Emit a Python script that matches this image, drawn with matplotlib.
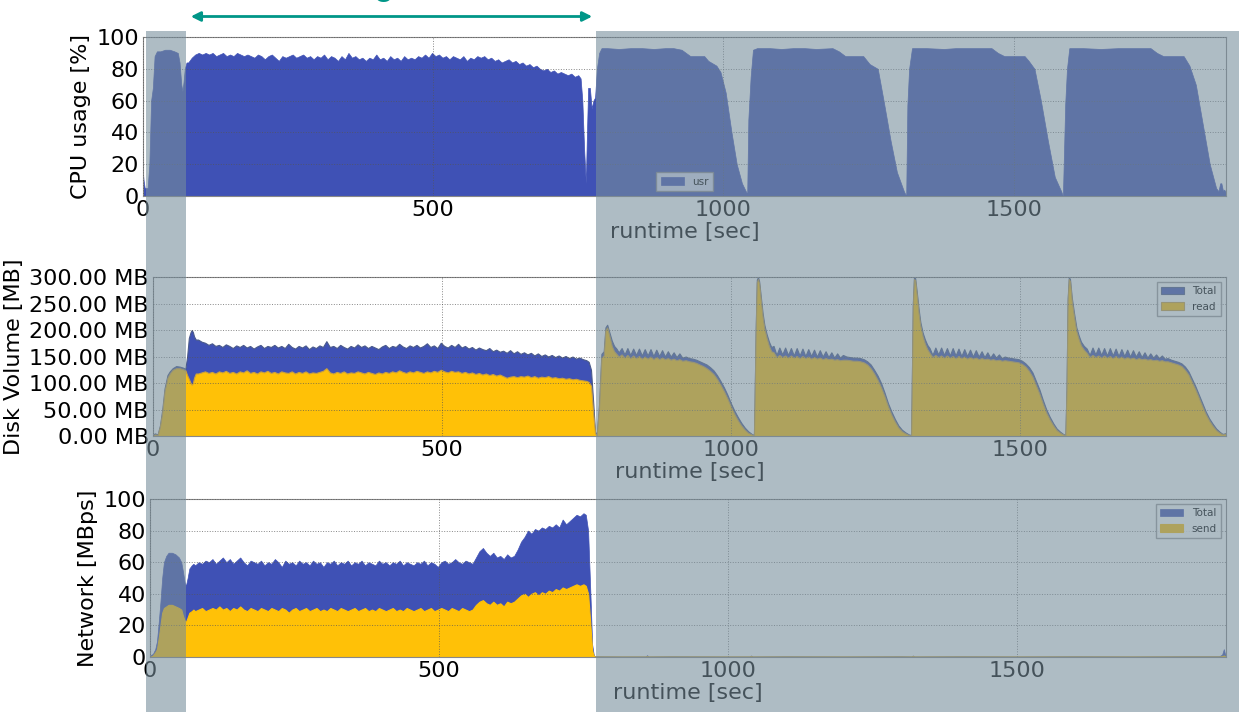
import numpy as np
import matplotlib
matplotlib.use("Agg")
import matplotlib.pyplot as plt
from matplotlib.patches import Rectangle, FancyArrowPatch
from matplotlib.ticker import FuncFormatter

# ---- CPU usage (usr) ----
cpu_t_start = [0, 1, 3, 8, 11, 14, 17, 20, 24, 30, 38, 46, 54, 60, 63, 66, 68, 70, 72, 75]
cpu_start = [14, 10, 5, 5, 20, 60, 68, 88, 91, 91, 92, 92, 91, 90, 84, 70, 66, 72, 80, 84]
# busy phase, one value per ~6 s from t=78 to t=750
cpu_busy = [84, 87, 89, 90, 89, 90, 89, 90, 88, 89, 90, 88, 89, 88, 90, 89, 88, 89, 88, 87,
            89, 88, 86, 88, 89, 87, 85, 88, 87, 88, 89, 87, 88, 89, 87, 88, 86, 88, 87, 89,
            86, 88, 87, 85, 88, 86, 90, 87, 88, 86, 87, 85, 87, 86, 89, 86, 87, 85, 88, 86,
            87, 85, 88, 86, 87, 86, 88, 87, 89, 87, 90, 88, 89, 87, 88, 86, 88, 87, 86, 88,
            85, 87, 86, 88, 87, 88, 86, 87, 85, 86, 84, 85, 86, 84, 85, 83, 84, 82, 83, 81,
            82, 80, 79, 80, 78, 79, 77, 78, 77, 76, 77, 75, 76]
cpu_t_end = [754, 757, 760, 763, 765, 767, 770, 773, 776, 779, 782, 786, 790,
             800, 820, 840, 860, 880, 900, 914, 928, 943, 967, 974, 988, 995, 1004, 1014, 1023, 1032, 1040,
             1041, 1043, 1047, 1051, 1058,
             1080, 1100, 1120, 1140, 1160, 1188, 1199, 1210, 1241, 1252, 1266, 1276, 1288, 1299, 1311,
             1315, 1317, 1320, 1325,
             1350, 1380, 1400, 1430, 1462, 1473, 1484, 1519, 1526, 1536, 1547, 1559, 1571, 1582,
             1585, 1589, 1592, 1596,
             1620, 1650, 1680, 1710, 1736, 1747, 1758, 1793, 1803, 1814, 1826, 1838, 1849, 1853,
             1856, 1858, 1861, 1863, 1866]
cpu_end = [74, 60, 30, 8, 40, 68, 68, 55, 60, 62, 80, 90, 93,
           93, 92.5, 93, 93, 92.5, 93, 93, 92, 88, 88, 85, 82, 78, 65, 40, 20, 8, 2,
           0, 48, 75, 92, 93,
           93, 92.5, 93, 93, 92.5, 93, 91, 88, 88, 83, 80, 60, 35, 15, 3,
           0, 57, 80, 93,
           93, 92.5, 93, 93, 93, 90, 88, 88, 85, 80, 60, 35, 12, 3,
           0, 58, 80, 93,
           93, 92.5, 93, 93, 93, 90, 88, 88, 82, 70, 45, 20, 5, 3,
           8, 8, 3, 4, 2]

# ---- Disk volume ----
disk_t_start = [0, 3, 8, 12, 16, 20, 25, 29, 34, 40, 46, 52, 56, 59, 62, 65, 67, 69, 71, 74]
disk_total_start = [2, 5, 3, 20, 50, 90, 115, 122, 128, 132, 131, 129, 127, 150, 185, 196, 200, 196, 188, 182]
disk_read_start = [1, 3, 2, 18, 45, 85, 110, 118, 125, 128, 128, 126, 124, 115, 108, 100, 97, 100, 110, 118]
disk_total_busy = [182, 178, 176, 172, 175, 170, 172, 168, 173, 170, 166, 171, 168, 172, 167, 170, 165, 169, 172, 166,
                   170, 168, 172, 167, 170, 166, 174, 168, 165, 170, 167, 171, 164, 169, 166, 171, 168, 179, 168, 170,
                   166, 172, 168, 165, 170, 167, 173, 168, 171, 166, 170, 167, 164, 169, 172, 166, 170, 168, 174, 169,
                   166, 171, 168, 172, 167, 170, 175, 168, 171, 166, 176, 170, 167, 172, 168, 174, 167, 170, 165, 168,
                   163, 167, 164, 162, 166, 160, 163, 159, 161, 157, 162, 156, 160, 155, 158, 154, 157, 152, 156, 151,
                   154, 150, 153, 149, 152, 148, 151, 147, 150, 146, 148, 145, 143]
disk_read_busy = [118, 120, 122, 119, 121, 118, 122, 120, 123, 119, 121, 118, 122, 120, 124, 119, 121, 118, 122, 120,
                  123, 119, 121, 118, 122, 120, 119, 122, 118, 121, 119, 122, 118, 120, 119, 121, 123, 128, 120, 118,
                  121, 119, 122, 118, 120, 119, 122, 120, 118, 121, 119, 117, 120, 118, 121, 119, 122, 120, 124, 121,
                  119, 122, 120, 123, 121, 119, 122, 120, 123, 121, 125, 122, 120, 123, 121, 122, 119, 121, 118, 120,
                  117, 119, 116, 118, 115, 117, 114, 116, 113, 110, 112, 113, 111, 113, 112, 114, 111, 113, 110, 112,
                  111, 113, 110, 111, 109, 110, 108, 109, 107, 108, 106, 105, 104]
disk_t_end = [754, 758, 762, 765, 768,
              772, 776, 780, 783, 786, 790, 794, 798, 802, 806, 811, 816, 821, 826, 831, 836, 841, 846, 851, 856,
              861, 866, 871, 876, 881, 886, 891, 896, 901, 906, 911, 916, 922, 928, 934, 940, 946, 952, 958, 964,
              970, 976, 982, 988, 994, 1000, 1006, 1012, 1018, 1024, 1030, 1036, 1040,
              1041, 1043, 1045, 1047, 1049, 1052, 1055, 1058, 1062, 1066, 1070, 1074, 1079, 1084, 1089, 1094, 1099,
              1104, 1109, 1114, 1119, 1124, 1129, 1134, 1139, 1144, 1149, 1154, 1159, 1164, 1169, 1174, 1179, 1184,
              1189, 1194, 1200, 1206, 1212, 1218, 1224, 1230, 1236, 1242, 1248, 1254, 1260, 1266, 1272, 1278, 1284,
              1290, 1296, 1302, 1308, 1312,
              1313, 1315, 1317, 1319, 1322, 1325, 1328, 1332, 1336, 1340, 1344, 1349, 1354, 1359, 1364, 1369, 1374,
              1379, 1384, 1389, 1394, 1399, 1404, 1409, 1414, 1419, 1424, 1429, 1434, 1439, 1444, 1449, 1454, 1459,
              1464, 1469, 1474, 1480, 1486, 1492, 1498, 1504, 1510, 1516, 1522, 1528, 1534, 1540, 1546, 1552, 1558,
              1564, 1570, 1575, 1579,
              1581, 1583, 1585, 1587, 1590, 1594, 1598, 1602, 1606, 1611, 1616, 1621, 1626, 1631, 1636, 1641, 1646,
              1651, 1656, 1661, 1666, 1671, 1676, 1681, 1686, 1691, 1696, 1701, 1706, 1711, 1716, 1721, 1726, 1731,
              1736, 1741, 1746, 1751, 1756, 1762, 1768, 1774, 1780, 1786, 1792, 1798, 1804, 1810, 1816, 1822, 1828,
              1834, 1840, 1846, 1851, 1855, 1857]
disk_total_end = [140, 125, 60, 8, 3,
                  60, 155, 160, 205, 210, 195, 180, 170, 165, 158, 166, 154, 166, 153, 165, 153, 165, 152, 164, 152,
                  164, 151, 163, 151, 162, 150, 160, 150, 158, 149, 156, 148, 150, 147, 146, 144, 141, 138, 135, 130,
                  124, 115, 104, 92, 78, 62, 48, 36, 25, 16, 9, 4, 2,
                  60, 200, 295, 300, 292, 262, 232, 210, 192, 178, 168, 170, 153, 167, 154, 167, 153,
                  166, 152, 166, 152, 165, 151, 164, 151, 163, 150, 162, 150, 160, 149, 158, 148, 156,
                  148, 153, 150, 149, 148, 148, 147, 145, 141, 135, 125, 114, 100, 82, 62, 46, 32,
                  20, 12, 7, 3, 2,
                  80, 250, 300, 298, 270, 240, 215, 195, 182, 172, 166, 153, 167, 154, 167, 153, 166,
                  152, 166, 152, 165, 151, 164, 151, 163, 150, 162, 150, 160, 149, 158, 148, 156, 148,
                  154, 147, 150, 148, 147, 146, 145, 142, 137, 130, 120, 104, 88, 68, 50, 36, 24,
                  14, 8, 4, 2,
                  90, 260, 300, 296, 262, 232, 205, 190, 178, 170, 165, 153, 167, 154, 167, 153, 166,
                  152, 166, 152, 165, 151, 164, 151, 163, 150, 162, 150, 160, 149, 158, 148, 156, 148,
                  154, 147, 152, 146, 147, 144, 142, 140, 137, 131, 122, 108, 94, 78, 62, 46, 33,
                  23, 14, 8, 4, 5, 6]
disk_read_end = [102, 95, 40, 5, 2,
                 55, 148, 152, 200, 205, 188, 170, 160, 155, 150, 154, 148, 153, 147, 152, 147, 151, 146, 150, 146,
                 150, 145, 149, 145, 148, 145, 147, 144, 146, 143, 145, 142, 143, 141, 140, 138, 135, 132, 128, 123,
                 117, 108, 97, 85, 71, 56, 42, 30, 20, 12, 6, 3, 1,
                 55, 195, 290, 296, 288, 255, 225, 203, 185, 170, 160, 158, 149, 153, 149, 152, 148,
                 152, 148, 151, 147, 151, 147, 150, 146, 149, 146, 148, 145, 147, 145, 146, 144, 145,
                 143, 144, 144, 143, 142, 142, 141, 139, 135, 128, 118, 106, 92, 75, 56, 40, 27,
                 16, 9, 5, 2, 1,
                 75, 245, 296, 294, 264, 232, 208, 188, 174, 164, 157, 149, 153, 149, 152, 148, 152,
                 148, 151, 147, 151, 147, 150, 146, 149, 146, 148, 145, 147, 145, 146, 144, 145, 143,
                 144, 142, 143, 142, 141, 140, 139, 136, 131, 123, 112, 96, 80, 61, 44, 31, 20,
                 11, 6, 3, 1,
                 85, 255, 296, 292, 256, 225, 198, 183, 171, 163, 157, 149, 153, 149, 152, 148, 152,
                 148, 151, 147, 151, 147, 150, 146, 149, 146, 148, 145, 147, 145, 146, 144, 145, 143,
                 144, 142, 143, 141, 141, 139, 137, 135, 132, 125, 116, 102, 88, 72, 56, 41, 29,
                 19, 11, 6, 3, 4, 5]

# ---- Network ----
net_t_start = [0, 5, 9, 12, 15, 18, 21, 24, 28, 32, 38, 44, 50, 54, 57, 60, 62, 65, 68, 72, 75]
net_total_start = [1, 2, 5, 10, 22, 35, 50, 60, 64, 66, 66, 65, 63, 60, 54, 47, 45, 50, 56, 58, 59]
net_send_start = [0, 1, 3, 5, 12, 20, 28, 31, 32, 33, 33, 32, 31, 30, 26, 23, 22, 25, 28, 29, 30]
net_total_busy = [58, 60, 59, 61, 60, 62, 59, 61, 63, 60, 62, 59, 61, 63, 60, 58, 61, 60, 59, 61,
                  58, 60, 59, 62, 60, 57, 61, 59, 60, 58, 61, 59, 60, 58, 61, 59, 60, 57, 60, 59,
                  61, 58, 60, 59, 61, 58, 60, 59, 61, 58, 60, 59, 58, 61, 59, 60, 58, 60, 59, 61,
                  58, 60, 59, 58, 60, 59, 61, 58, 60, 59, 57, 60, 61, 59, 60, 62, 60, 59, 61, 60,
                  59, 63, 67, 69, 66, 64, 66, 63, 64, 62, 65, 63, 64, 68, 73, 76, 80, 78, 81, 80,
                  82, 81, 83, 82, 84, 82, 87, 84, 86, 88, 90, 89, 91]
net_send_busy = [29, 30, 31, 29, 30, 31, 30, 32, 30, 31, 29, 31, 30, 32, 30, 29, 31, 30, 29, 31,
                 30, 29, 31, 30, 29, 31, 30, 28, 30, 31, 29, 30, 31, 29, 30, 31, 29, 30, 29, 31,
                 30, 29, 31, 30, 29, 30, 31, 29, 30, 31, 29, 30, 29, 31, 30, 29, 30, 31, 29, 30,
                 29, 31, 30, 29, 30, 31, 29, 30, 31, 29, 30, 31, 30, 29, 31, 30, 29, 31, 30, 29,
                 30, 33, 35, 36, 34, 33, 35, 33, 34, 32, 35, 34, 35, 37, 39, 40, 38, 40, 41, 39,
                 41, 40, 42, 41, 43, 42, 44, 43, 44, 45, 46, 45, 46]
net_t_end = [754, 758, 762, 765, 768, 770, 820, 858, 860, 862, 900, 1000, 1038, 1040, 1042, 1100, 1200,
             1300, 1318, 1320, 1322, 1400, 1500, 1600, 1700, 1800, 1850, 1855, 1858, 1860, 1862]
net_total_end = [90, 80, 40, 8, 1, 0.5, 0.4, 0.4, 1.2, 0.4, 0.5, 0.4, 0.4, 1.0, 0.4, 0.5, 0.4,
                 0.5, 0.4, 1.0, 0.4, 0.5, 0.4, 0.5, 0.4, 0.5, 0.5, 1.5, 5.0, 2.0, 0.5]
net_send_end = [45, 40, 20, 4, 0.5, 0.3, 0.3, 0.3, 0.5, 0.3, 0.3, 0.3, 0.3, 0.5, 0.3, 0.3, 0.3,
                0.3, 0.3, 0.5, 0.3, 0.3, 0.3, 0.3, 0.3, 0.3, 0.3, 0.5, 1.0, 0.5, 0.3]

BLUE = '#3f51b5'
YELLOW = '#ffc107'
SHADE = '#768d9b'


def series(t_start, v_start, v_busy, t_end, v_end):
    t_busy = np.linspace(78, 750, len(v_busy))
    t = np.concatenate([t_start, t_busy, t_end])
    v = np.concatenate([v_start, v_busy, v_end])
    return t, v


def style(ax, xmax):
    ax.set_xlim(0, xmax)
    ax.set_xticks([0, 500, 1000, 1500])
    ax.grid(True, color='#555555', linestyle=':', linewidth=0.7, alpha=0.7)
    ax.set_axisbelow(False)
    for s in ax.spines.values():
        s.set_color('#888888')
    ax.tick_params(length=0, labelsize=16, pad=3)
    ax.set_xlabel('runtime [sec]', fontsize=16, labelpad=1)


fig = plt.figure(figsize=(12.39, 7.12), dpi=100)

# CPU
ax1 = fig.add_axes([0.1154, 0.7247, 0.8741, 0.2233])
t, v = series(cpu_t_start, cpu_start, cpu_busy, cpu_t_end, cpu_end)
ax1.fill_between(t, 0, v, color=BLUE, lw=0.5, label='usr')
ax1.set_ylim(0, 100)
ax1.set_yticks(range(0, 101, 20))
ax1.set_ylabel('CPU usage [%]', fontsize=16)
style(ax1, 1866)
ax1.legend(loc='lower center', fontsize=7.5, fancybox=False, edgecolor='#888888',
           borderaxespad=0.5, handlelength=2.2)

# Disk
ax2 = fig.add_axes([0.1235, 0.3876, 0.866, 0.2233])
t, tot = series(disk_t_start, disk_total_start, disk_total_busy, disk_t_end, disk_total_end)
_, rd = series(disk_t_start, disk_read_start, disk_read_busy, disk_t_end, disk_read_end)
ax2.fill_between(t, 0, tot, facecolor=BLUE, edgecolor='#4a5a8a', lw=0.8, label='Total')
ax2.fill_between(t, 0, rd, facecolor=YELLOW, edgecolor='#c8a040', lw=0.8, label='read')
ax2.set_ylim(0, 300)
ax2.set_yticks(range(0, 301, 50))
ax2.yaxis.set_major_formatter(FuncFormatter(lambda y, p: '%.2f MB' % y))
ax2.set_ylabel('Disk Volume [MB]', fontsize=16)
style(ax2, 1857)
ax2.legend(loc='upper right', fontsize=7.5, fancybox=False, edgecolor='#888888',
           borderaxespad=0.5, handlelength=2.2)

# Network
ax3 = fig.add_axes([0.1211, 0.0772, 0.8685, 0.222])
t, tot = series(net_t_start, net_total_start, net_total_busy, net_t_end, net_total_end)
_, sd = series(net_t_start, net_send_start, net_send_busy, net_t_end, net_send_end)
ax3.fill_between(t, 0, tot, color=BLUE, lw=0.5, label='Total')
ax3.fill_between(t, 0, sd, color=YELLOW, lw=0.8, edgecolor=YELLOW, label='send')
ax3.set_ylim(0, 100)
ax3.set_yticks(range(0, 101, 20))
ax3.set_ylabel('Network [MBps]', fontsize=16)
style(ax3, 1862)
ax3.legend(loc='upper right', fontsize=7.5, fancybox=False, edgecolor='#888888',
           borderaxespad=0.5, handlelength=2.2)

# shaded phases on top of everything
W, H = 1239.0, 712.0
for x0, x1 in [(146, 186), (596, 1239)]:
    fig.add_artist(Rectangle((x0 / W, 0), (x1 - x0) / W, (H - 31) / H,
                             transform=fig.transFigure, facecolor=SHADE,
                             edgecolor='none', alpha=0.59, zorder=10))

# arrow marking the steady phase, with its (mostly cropped) caption above
fig.add_artist(FancyArrowPatch((188 / W, 1 - 16.5 / H), (595 / W, 1 - 16.5 / H),
                               transform=fig.transFigure, arrowstyle='<|-|>',
                               mutation_scale=14, color='#009688', lw=2, zorder=11))
fig.text(383 / W, 1 - 1.5 / H, 'o', color='#009688', fontsize=20, fontweight='bold',
         ha='center', va='baseline')

fig.savefig('out.png', dpi=100)
